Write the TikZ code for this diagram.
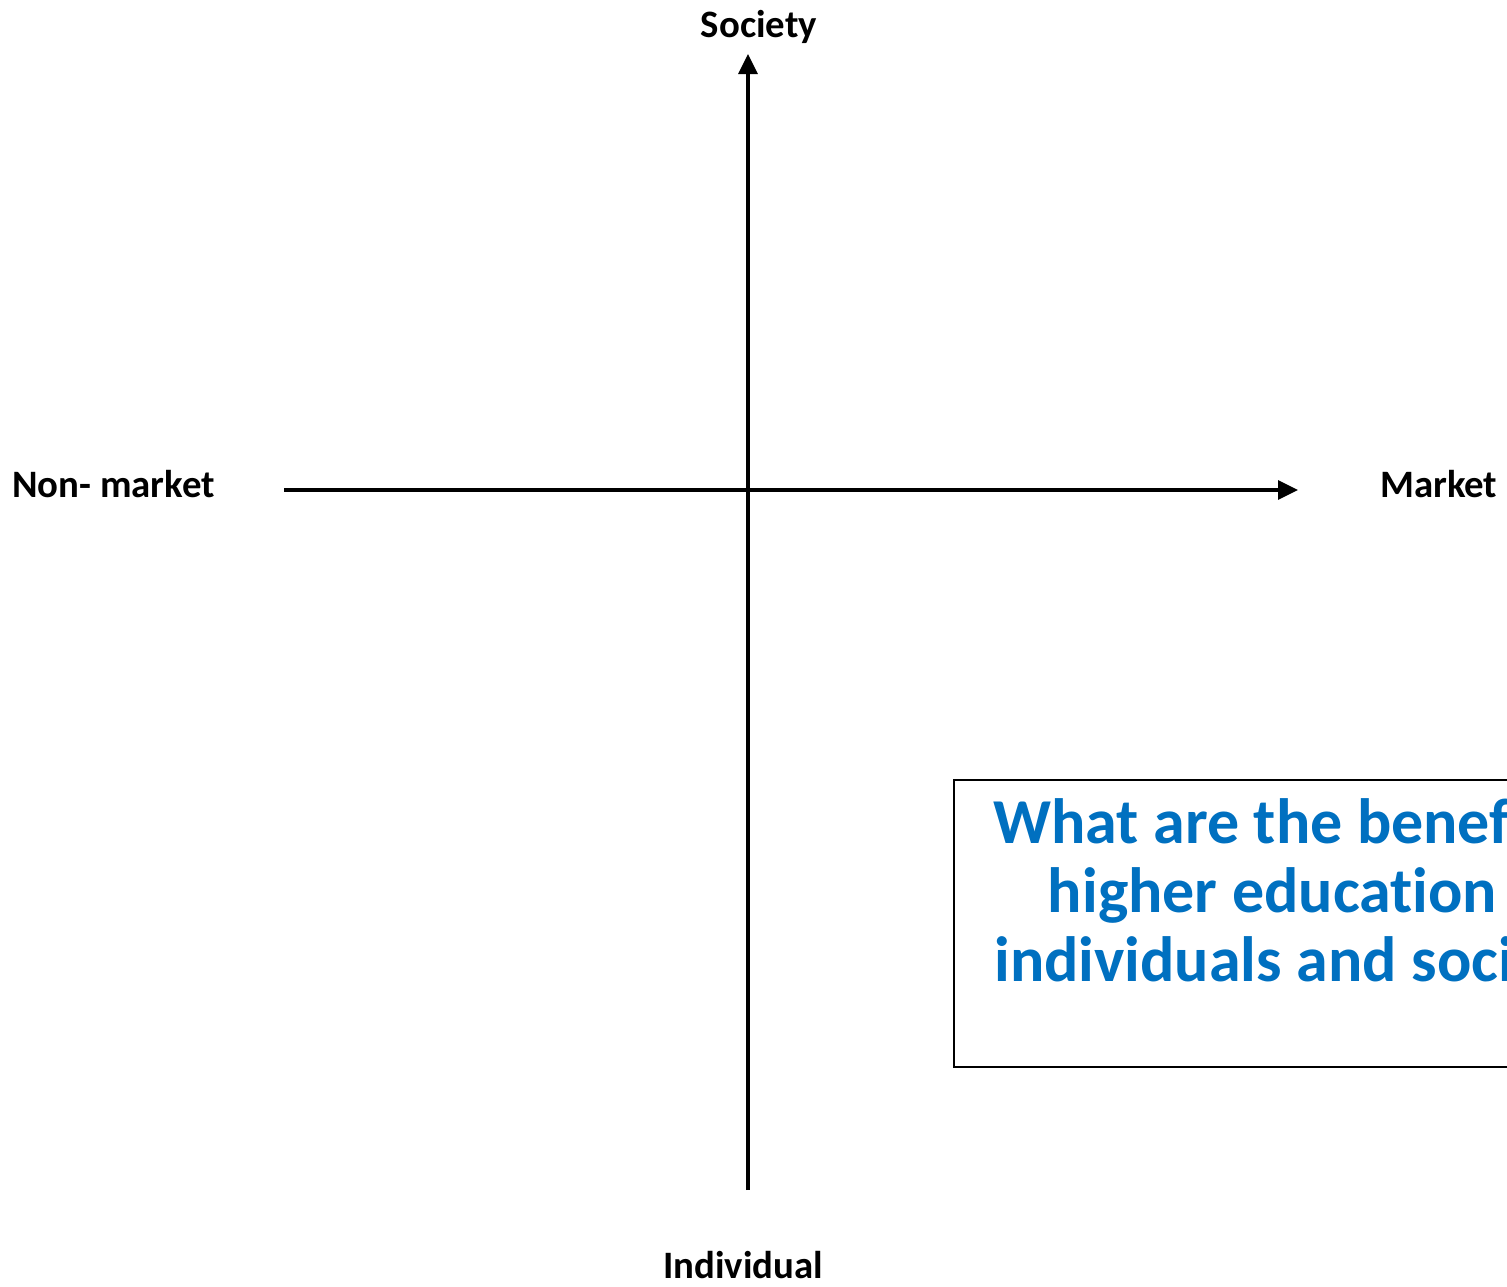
\documentclass[tikz,border=0pt]{standalone}
\usepackage{fontspec}
\setmainfont{Carlito}[Ligatures=NoCommon]
\usetikzlibrary{arrows.meta}
\definecolor{qblue}{HTML}{0070C0}
\begin{document}
\begin{tikzpicture}[x=1pt,y=-1pt,
  axis/.style={line width=3.2pt,-{Triangle[length=20pt,width=19pt]}},
  lab/.style={inner sep=0pt,font=\fontsize{38.8}{44}\selectfont\bfseries},
  qline/.style={inner sep=0pt,anchor=base,text=qblue,font=\fontsize{64}{69}\selectfont\bfseries},
  qbox/.style={draw=black,line width=1.5pt}]
\useasboundingbox (0,0) rectangle (1507,1286);
\clip (0,0) rectangle (1507,1286);
\coordinate (hl) at (284,490);
\coordinate (hr) at (1298,490);
\coordinate (vb) at (748,1190);
\coordinate (vt) at (748,54);
\draw[axis] (vb) -- (vt);
\draw[axis] (hl) -- (hr);
\node[lab,anchor=base] (society) at (759,37) {Society};
\node[lab,anchor=base] (individual) at (743,1278) {Individual};
\node[lab,anchor=base west] (nonmarket) at (12,497) {Non- market};
\node[lab,anchor=base west] (market) at (1380,497) {Market};
\draw[qbox] (954,780) rectangle (1682,1067);
\node[qline] (q1) at (1318,843) {What are the benefits of};
\node[qline] (q2) at (1318,912) {higher education for};
\node[qline] (q3) at (1311,981) {individuals and society?};
\end{tikzpicture}
\end{document}
